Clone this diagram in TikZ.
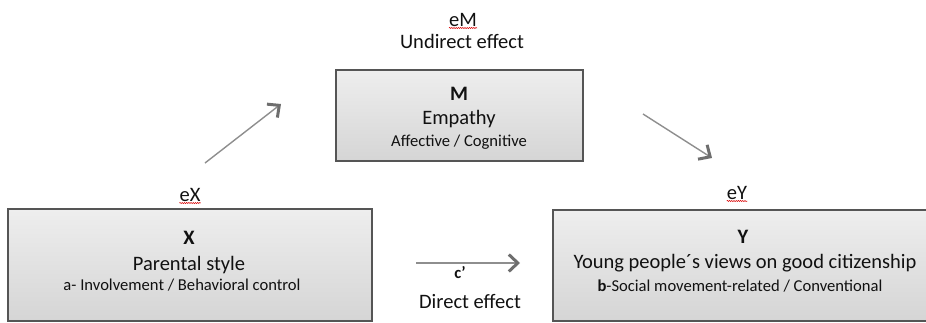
\documentclass[tikz,border=0pt]{standalone}
\usepackage{fontspec}
\setmainfont{Carlito}
\usetikzlibrary{arrows.meta,decorations.pathmorphing}

\definecolor{boxedge}{HTML}{555555}
\definecolor{boxtop}{HTML}{EEEEEE}
\definecolor{boxbot}{HTML}{D5D5D5}
\definecolor{arrowgray}{HTML}{8E8E8E}
\definecolor{tipgray}{HTML}{6E6E6E}
\definecolor{inktext}{HTML}{111111}

\newcommand{\bigsize}{\fontsize{20.5}{24}\selectfont}
\newcommand{\smallsize}{\fontsize{16.6}{19}\selectfont}

\tikzset{
  varbox/.style={draw=boxedge, line width=1.6pt, top color=boxtop, bottom color=boxbot,
    rectangle, inner sep=0pt, anchor=north west},
  label big/.style={inner sep=0pt, anchor=base, text=inktext, font=\bigsize},
  label small/.style={inner sep=0pt, anchor=base, text=inktext, font=\smallsize},
  pathlink/.style={draw=arrowgray, line width=1.4pt,
    -{Straight Barb[length=9pt,width=17pt,line width=3pt,color=tipgray]}},
  spellmark/.style={draw=red!85!black, line width=0.5pt,
    decorate, decoration={snake, segment length=2.2pt, amplitude=0.6pt}}
}

\begin{document}
\begin{tikzpicture}[x=1pt,y=-1pt]
  \useasboundingbox (0,0) rectangle (926,322);

  % variable boxes
  \node[varbox, minimum width=247pt, minimum height=91pt] (boxM) at (335,69) {};
  \node[varbox, minimum width=364pt, minimum height=112pt] (boxX) at (7,208) {};
  \node[varbox, minimum width=382pt, minimum height=111pt] (boxY) at (552,209) {};

  % mediator
  \node[label big] (eM) at (463,26) {eM};
  \node[label big] (indirect) at (462,48) {Undirect effect};
  \node[label big, font=\bigsize\bfseries] (mName) at (459,100) {M};
  \node[label big] (mTitle) at (459,124) {Empathy};
  \node[label small] (mSub) at (459,146) {Affective / Cognitive};

  % predictor
  \node[label big] (eX) at (190,201) {eX};
  \node[label big, font=\bigsize\bfseries] (xName) at (189,244) {X};
  \node[label big] (xTitle) at (189,270) {Parental style};
  \node[label small] (xSub) at (182,290) {a- Involvement / Behavioral control};

  % outcome
  \node[label big] (eY) at (737,199) {eY};
  \node[label big, font=\bigsize\bfseries] (yName) at (743,243) {Y};
  \node[label big] (yTitle) at (745,268) {Young people´s views on good citizenship};
  \node[label small] (ySub) at (740,291) {\textbf{b}-Social movement-related / Conventional};

  % direct path labels
  \node[label small, font=\smallsize\bfseries] (cprime) at (460,278) {c’};
  \node[label big] (direct) at (470,308) {Direct effect};

  % spell-check marks under the error terms
  \foreach \n in {eM,eX,eY}
    \draw[spellmark] ([yshift=-2pt]\n.base west) -- ([yshift=-2pt]\n.base east);

  % path arrows
  \coordinate (aStart) at (205,163);
  \coordinate (aEnd) at (281,104);
  \coordinate (bStart) at (643,114);
  \coordinate (bEnd) at (712,158);
  \coordinate (cStart) at (416,263);
  \coordinate (cEnd) at (520,263);
  \draw[pathlink] (aStart) -- (aEnd);
  \draw[pathlink] (bStart) -- (bEnd);
  \draw[pathlink] (cStart) -- (cEnd);
\end{tikzpicture}
\end{document}
